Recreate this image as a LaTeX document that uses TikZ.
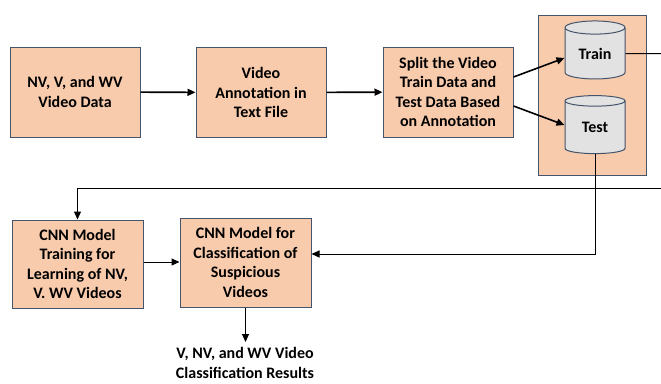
\documentclass[tikz,border=0pt]{standalone}
\usepackage{fontspec}
\setmainfont{Carlito}
\usetikzlibrary{shapes.geometric,arrows.meta}
\definecolor{peach}{HTML}{F8CBAD}
\definecolor{edgeblue}{HTML}{44546A}
\definecolor{cylgray}{HTML}{E2E2E2}
\begin{document}
\begin{tikzpicture}[x=1pt,y=-1pt,
  txt/.style={font=\bfseries\fontsize{16}{19.5}\selectfont},
  box/.style={txt, draw=edgeblue, fill=peach, line width=1pt, minimum width=130pt, minimum height=90pt,
    align=center, inner sep=2pt},
  cyl/.style={txt, draw=edgeblue, fill=cylgray, line width=1pt, cylinder, shape border rotate=90, aspect=0.4,
    minimum width=60pt, minimum height=58pt, inner sep=0pt},
  thick arrow/.style={line width=1.6pt, -{Triangle[length=8pt,width=7pt]}},
  thin arrow/.style={line width=1pt, -{Triangle[length=8pt,width=7pt]}},
  plainline/.style={line width=1pt}]
\useasboundingbox (0,0) rectangle (661,383);
\node[box] (data) at (75,92) {NV, V, and WV\\Video Data};
\node[box] (annot) at (261,92.5) {Video\\Annotation in\\Text File};
\node[box] (split) at (448,92) {Split the Video\\Train Data and\\Test Data Based\\on Annotation};
\node[draw=edgeblue, fill=peach, line width=1pt, minimum width=108pt, minimum height=160pt, inner sep=0pt] (cont) at (592,95) {};
\node[cyl] (train) at (595,53.5) {Train};
\node[cyl] (test) at (595,127.5) {Test};
\node[box, minimum width=131pt, minimum height=88pt] (cnntrain) at (77.5,264) {CNN Model\\Training for\\Learning of NV,\\V. WV Videos};
\node[box, minimum width=131pt, minimum height=89pt] (cnnclass) at (245.5,262.5) {CNN Model for\\Classification of\\Suspicious\\Videos};
\node[txt, align=center, inner sep=0pt] (results) at (245,363) {V, NV, and WV Video\\Classification Results};
\coordinate (trainout) at (661,53.5);
\coordinate (loopin) at (661,188);
\coordinate (arrowend) at (245.5,342);
\draw[thick arrow] (data) -- (annot);
\draw[thick arrow] (annot) -- (split);
\draw[thick arrow] ([yshift=15pt]split.east) -- ([yshift=-4.5pt]train.west);
\draw[thick arrow] ([yshift=-14pt]split.east) -- ([yshift=2.5pt]test.west);
\draw[plainline] (train.east) -- (trainout);
\draw[thin arrow] (loopin) -| (cnntrain.north);
\draw[thin arrow] (test.south) |- ([yshift=8.5pt]cnnclass.east);
\draw[thin arrow] ([yshift=2pt]cnntrain.east) -- ([yshift=0.5pt]cnnclass.west);
\draw[thin arrow] (cnnclass.south) -- (arrowend);
\end{tikzpicture}
\end{document}
